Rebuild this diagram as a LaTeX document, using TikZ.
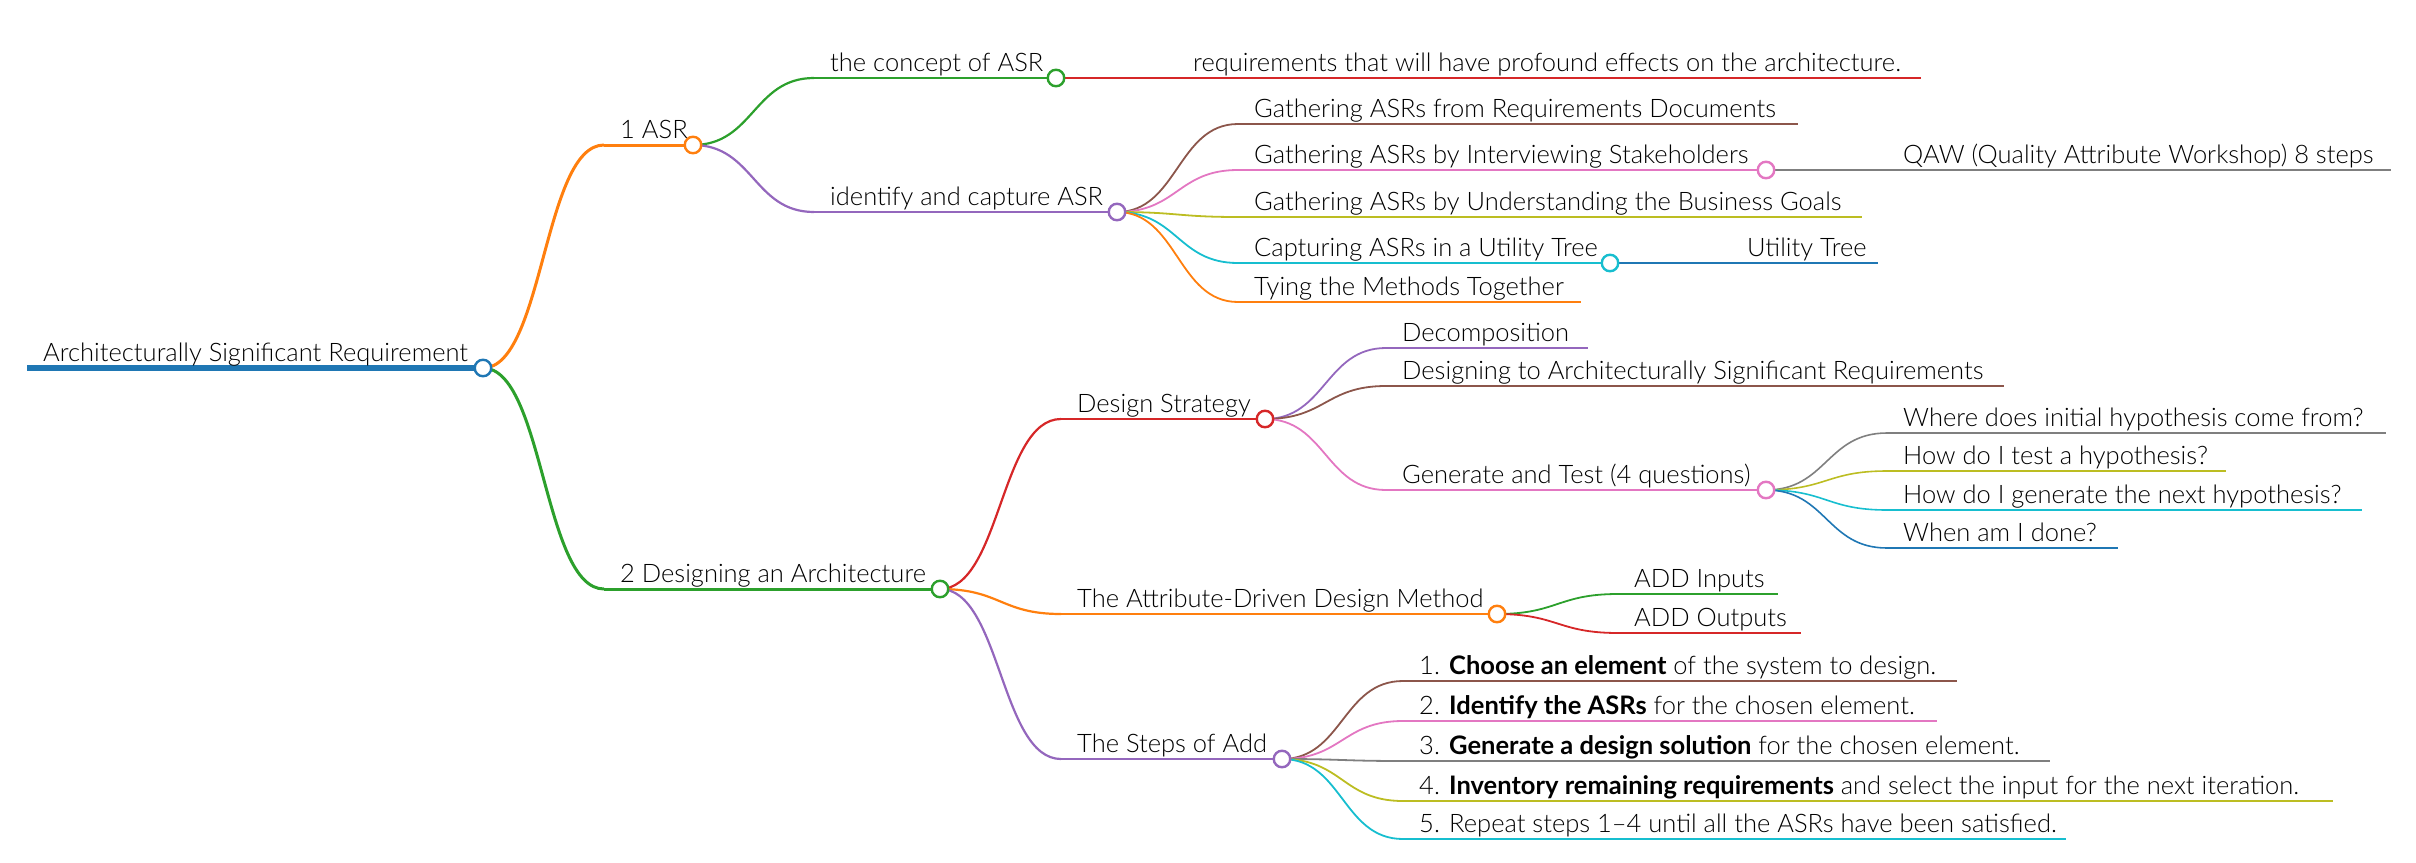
\documentclass[tikz,border=0pt]{standalone}
\usepackage{fontspec}
\setmainfont{Lato}[UprightFont=* Light, BoldFont=* Bold]
\usetikzlibrary{calc}
\definecolor{mmblue}{HTML}{1F77B4}
\definecolor{mmorange}{HTML}{FF7F0E}
\definecolor{mmgreen}{HTML}{2CA02C}
\definecolor{mmred}{HTML}{D62728}
\definecolor{mmpurple}{HTML}{9467BD}
\definecolor{mmbrown}{HTML}{8C564B}
\definecolor{mmpink}{HTML}{E377C2}
\definecolor{mmgray}{HTML}{7F7F7F}
\definecolor{mmolive}{HTML}{BCBD22}
\definecolor{mmcyan}{HTML}{17BECF}
\newcommand\mmdata{%
\mmitem{root}{}{27}{483}{368}{mmblue}{6pt}{Architecturally Significant Requirement}{1}%
\mmitem{asr}{root}{604}{693}{145}{mmorange}{3pt}{1 ASR}{1}%
\mmitem{concept}{asr}{814}{1056}{78}{mmgreen}{2.2pt}{the concept of ASR}{1}%
\mmitem{req}{concept}{1177}{1921}{78}{mmred}{1.8pt}{requirements that will have profound effects on the architecture.}{0}%
\mmitem{ident}{asr}{814}{1117}{212}{mmpurple}{2.2pt}{identify and capture ASR}{1}%
\mmitem{greq}{ident}{1238}{1798}{124}{mmbrown}{1.8pt}{Gathering ASRs from Requirements Documents}{0}%
\mmitem{gint}{ident}{1238}{1766}{170}{mmpink}{1.8pt}{Gathering ASRs by Interviewing Stakeholders}{1}%
\mmitem{qaw}{gint}{1887}{2391}{170}{mmgray}{1.6pt}{QAW (Quality Attribute Workshop) 8 steps}{0}%
\mmitem{gbus}{ident}{1238}{1862}{217}{mmolive}{1.8pt}{Gathering ASRs by Understanding the Business Goals}{0}%
\mmitem{capt}{ident}{1238}{1610}{263}{mmcyan}{1.8pt}{Capturing ASRs in a Utility Tree}{1}%
\mmitem{ut}{capt}{1731}{1878}{263}{mmblue}{1.6pt}{Utility Tree}{0}%
\mmitem{tying}{ident}{1238}{1581}{302}{mmorange}{1.8pt}{Tying the Methods Together}{0}%
\mmitem{des}{root}{604}{940}{589}{mmgreen}{3pt}{2 Designing an Architecture}{1}%
\mmitem{ds}{des}{1061}{1265}{419}{mmred}{2.2pt}{Design Strategy}{1}%
\mmitem{decomp}{ds}{1386}{1588}{348}{mmpurple}{1.8pt}{Decomposition}{0}%
\mmitem{dasr}{ds}{1386}{2004}{386}{mmbrown}{1.8pt}{Designing to Architecturally Significant Requirements}{0}%
\mmitem{gt}{ds}{1386}{1766}{490}{mmpink}{1.8pt}{Generate and Test (4 questions)}{1}%
\mmitem{qa}{gt}{1887}{2386}{433}{mmgray}{1.6pt}{Where does initial hypothesis come from?}{0}%
\mmitem{qb}{gt}{1887}{2226}{471}{mmolive}{1.6pt}{How do I test a hypothesis?}{0}%
\mmitem{qc}{gt}{1887}{2362}{510}{mmcyan}{1.6pt}{How do I generate the next hypothesis?}{0}%
\mmitem{qd}{gt}{1887}{2118}{548}{mmblue}{1.6pt}{When am I done?}{0}%
\mmitem{add}{des}{1061}{1497}{614}{mmorange}{2.2pt}{The Attribute-Driven Design Method}{1}%
\mmitem{addin}{add}{1618}{1778}{594}{mmgreen}{1.8pt}{ADD Inputs}{0}%
\mmitem{addout}{add}{1618}{1801}{633}{mmred}{1.8pt}{ADD Outputs}{0}%
\mmitem{steps}{des}{1061}{1282}{759}{mmpurple}{2.2pt}{The Steps of Add}{1}%
\mmitem{sa}{steps}{1403}{1957}{681}{mmbrown}{1.8pt}{1. \textbf{Choose an element} of the system to design.}{0}%
\mmitem{sb}{steps}{1403}{1937}{721}{mmpink}{1.8pt}{2. \textbf{Identify the ASRs} for the chosen element.}{0}%
\mmitem{sc}{steps}{1403}{2050}{761}{mmgray}{1.8pt}{3. \textbf{Generate a design solution} for the chosen element.}{0}%
\mmitem{sd}{steps}{1403}{2333}{801}{mmolive}{1.8pt}{4. \textbf{Inventory remaining requirements} and select the input for the next iteration.}{0}%
\mmitem{se}{steps}{1403}{2066}{839}{mmcyan}{1.8pt}{5. Repeat steps 1–4 until all the ASRs have been satisfied.}{0}%
}
\tikzset{
  txt/.style={anchor=base west, inner sep=0pt, text=black, font=\fontsize{25.5}{30}\selectfont},
  knob/.style={circle, fill=white, line width=2.4pt, minimum size=16.5pt, inner sep=0pt}
}
\begin{document}
\begin{tikzpicture}[x=1pt,y=-1pt]
\useasboundingbox (0,0) rectangle (2416,862);
% coordinates
\def\mmitem#1#2#3#4#5#6#7#8#9{\coordinate (#1-s) at (#3,#5);\coordinate (#1-e) at (#4,#5);}
\mmdata
% links
\def\mmitem#1#2#3#4#5#6#7#8#9{\ifx&#2&\else
  \path ($(#2-e)!.5!(#1-s)$) coordinate (#1-m);
  \draw[line width=#7, draw=#6] (#2-e) .. controls (#1-m |- #2-e) and (#1-m |- #1-s) .. (#1-s);\fi}
\mmdata
% underlines
\def\mmitem#1#2#3#4#5#6#7#8#9{\draw[line width=#7, draw=#6] (#1-s) -- (#1-e);}
\mmdata
% circles
\def\mmitem#1#2#3#4#5#6#7#8#9{\if1#9\node[knob, draw=#6] (#1-c) at (#1-e) {};\fi}
\mmdata
% texts
\def\mmitem#1#2#3#4#5#6#7#8#9{\node[txt] (#1) at ([xshift=16pt,yshift=7pt]#1-s) {#8};}
\mmdata
\end{tikzpicture}
\end{document}
